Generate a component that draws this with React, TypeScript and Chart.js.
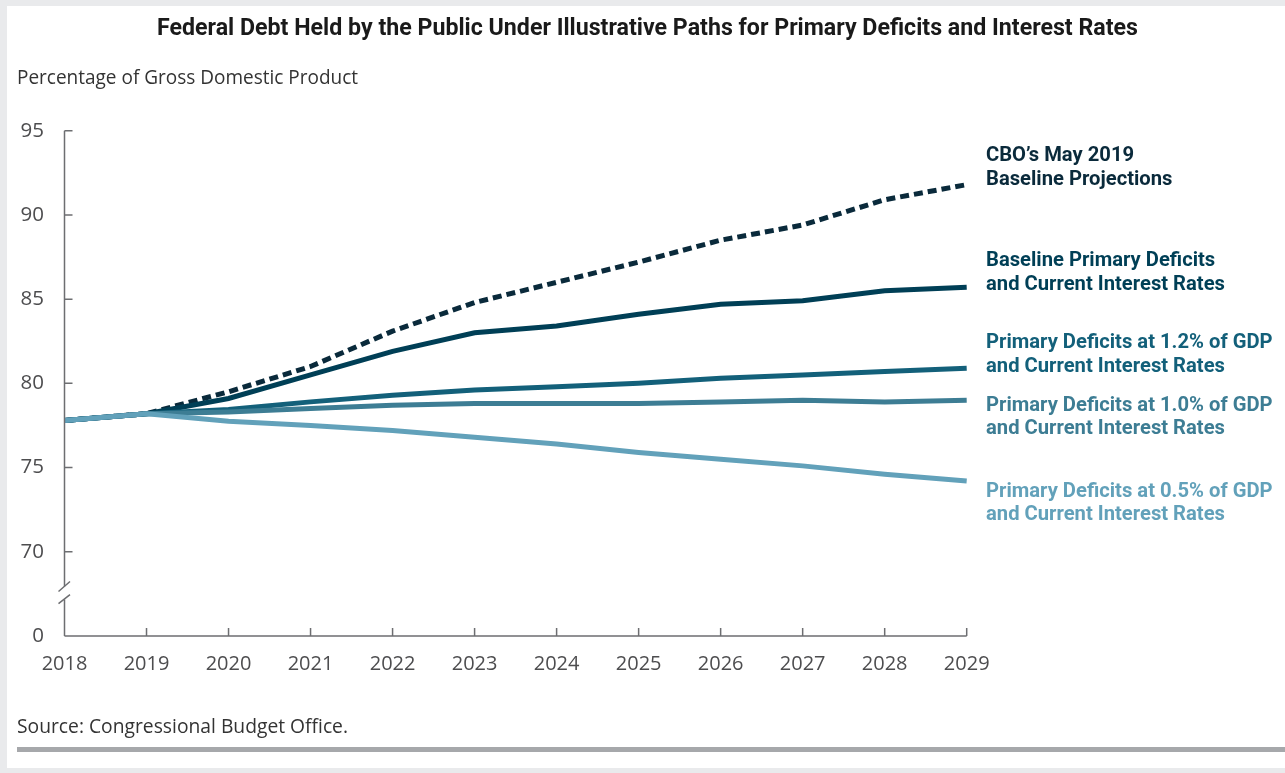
import React, { useEffect, useRef } from 'react';
import { Chart, registerables } from 'chart.js';
Chart.register(...registerables);

// ---------- data ----------
const years = ['2018', '2019', '2020', '2021', '2022', '2023', '2024', '2025', '2026', '2027', '2028', '2029'];
const cboBaseline = [77.8, 78.2, 79.5, 81.0, 83.1, 84.8, 86.0, 87.2, 88.5, 89.4, 90.9, 91.8];
const baselineDeficits = [77.8, 78.2, 79.1, 80.5, 81.9, 83.0, 83.4, 84.1, 84.7, 84.9, 85.5, 85.7];
const deficits12 = [77.8, 78.2, 78.45, 78.9, 79.3, 79.6, 79.8, 80.0, 80.3, 80.5, 80.7, 80.9];
const deficits10 = [77.8, 78.2, 78.3, 78.5, 78.7, 78.8, 78.8, 78.8, 78.9, 79.0, 78.9, 79.0];
const deficits05 = [77.8, 78.2, 77.75, 77.5, 77.2, 76.8, 76.4, 75.9, 75.5, 75.1, 74.6, 74.2];
const yTickValues = [65, 70, 75, 80, 85, 90, 95];
const yTickLabels = ['0', '70', '75', '80', '85', '90', '95'];
const seriesLabels = [
  ['CBO’s May 2019', 'Baseline Projections'],
  ['Baseline Primary Deficits', 'and Current Interest Rates'],
  ['Primary Deficits at 1.2% of GDP', 'and Current Interest Rates'],
  ['Primary Deficits at 1.0% of GDP', 'and Current Interest Rates'],
  ['Primary Deficits at 0.5% of GDP', 'and Current Interest Rates'],
];
const titleText = 'Federal Debt Held by the Public Under Illustrative Paths for Primary Deficits and Interest Rates';
const subtitleText = 'Percentage of Gross Domestic Product';
const sourceText = 'Source: Congressional Budget Office.';

// ---------- styles ----------
const COLORS = ['#0a2a3b', '#003f56', '#13607a', '#3d7d94', '#62a1ba'];
const AXIS = '#6d6e71';
const LABEL_OFFSETS = [-28.5, -26.5, -25, 5.5, 10.5];
const LINE_GAP = 23.5;
const BREAK_VALUE = 67.55;

function fitText(ctx: CanvasRenderingContext2D, text: string, x: number, y: number, width: number) {
  const w = ctx.measureText(text).width;
  const s = width / w;
  ctx.save();
  ctx.translate(x, y);
  ctx.scale(s, 1);
  ctx.fillText(text, 0, 0);
  ctx.restore();
}

const decorPlugin = {
  id: 'decor',
  beforeDraw(chart: any) {
    const ctx: CanvasRenderingContext2D = chart.ctx;
    ctx.save();
    ctx.fillStyle = '#e9eaec';
    ctx.fillRect(0, 0, chart.width, chart.height);
    ctx.fillStyle = '#ffffff';
    ctx.fillRect(7, 6, chart.width - 7, 762);
    ctx.fillStyle = '#a6a8ab';
    ctx.fillRect(17, 747, chart.width - 17, 5);

    ctx.textAlign = 'left';
    ctx.textBaseline = 'middle';
    ctx.fillStyle = '#1a1a1a';
    ctx.font = 'bold 23px Roboto';
    fitText(ctx, titleText, 157, 29, 981);

    ctx.fillStyle = '#333333';
    ctx.font = '19.5px "Open Sans"';
    fitText(ctx, subtitleText, 17, 78, 341);
    fitText(ctx, sourceText, 17, 727, 331);
    ctx.restore();
  },
  afterDraw(chart: any) {
    const ctx: CanvasRenderingContext2D = chart.ctx;
    const xs = chart.scales.x;
    const ys = chart.scales.y;
    const left = chart.chartArea.left;
    const bottom = chart.chartArea.bottom;
    const top = chart.chartArea.top;
    const right = chart.chartArea.right;
    ctx.save();
    ctx.strokeStyle = AXIS;
    ctx.lineWidth = 1.5;
    const yb = ys.getPixelForValue(BREAK_VALUE);
    // y axis line with break
    ctx.beginPath();
    ctx.moveTo(left, top);
    ctx.lineTo(left, yb - 6.5);
    ctx.moveTo(left, yb + 6.5);
    ctx.lineTo(left, bottom);
    // x axis line
    ctx.moveTo(left, bottom);
    ctx.lineTo(right, bottom);
    ctx.stroke();
    // break slashes
    ctx.beginPath();
    ctx.moveTo(left - 6, yb - 1.5);
    ctx.lineTo(left + 5.5, yb - 11.5);
    ctx.moveTo(left - 6, yb + 10.5);
    ctx.lineTo(left + 5.5, yb + 1.5);
    ctx.stroke();
    // inward ticks
    ctx.beginPath();
    yTickValues.forEach((v) => {
      if (v === yTickValues[0]) return;
      const py = ys.getPixelForValue(v);
      ctx.moveTo(left, py);
      ctx.lineTo(left + 8, py);
    });
    years.forEach((_, i) => {
      if (i === 0) return;
      const px = xs.getPixelForValue(i);
      ctx.moveTo(px, bottom);
      ctx.lineTo(px, bottom - 8);
    });
    ctx.stroke();

    // series labels
    const series = [cboBaseline, baselineDeficits, deficits12, deficits10, deficits05];
    ctx.font = 'bold 21px Roboto';
    ctx.textAlign = 'left';
    ctx.textBaseline = 'middle';
    const scale = 239 / ctx.measureText('and Current Interest Rates').width;
    series.forEach((s, i) => {
      const endY = ys.getPixelForValue(s[s.length - 1]);
      ctx.fillStyle = COLORS[i];
      seriesLabels[i].forEach((line, j) => {
        const w = ctx.measureText(line).width * scale;
        fitText(ctx, line, 986, endY + LABEL_OFFSETS[i] + j * LINE_GAP, w);
      });
    });
    ctx.restore();
  },
};

export default function App() {
  const ref = useRef<HTMLCanvasElement>(null);
  useEffect(() => {
    if (!ref.current) return;
    const mk = (label: string, data: number[], i: number, dash: number[] = []) => ({
      label,
      data,
      borderColor: COLORS[i],
      backgroundColor: COLORS[i],
      borderWidth: 5,
      borderDash: dash,
      borderCapStyle: 'butt' as const,
      pointRadius: 0,
      tension: 0,
      fill: false,
    });
    const chart = new Chart(ref.current, {
      type: 'line',
      data: {
        labels: years,
        datasets: [
          mk(seriesLabels[4].join(' '), deficits05, 4),
          mk(seriesLabels[3].join(' '), deficits10, 3),
          mk(seriesLabels[2].join(' '), deficits12, 2),
          mk(seriesLabels[1].join(' '), baselineDeficits, 1),
          mk(seriesLabels[0].join(' '), cboBaseline, 0, [9, 5]),
        ],
      },
      options: {
        responsive: false,
        animation: false,
        devicePixelRatio: 1,
        layout: { padding: { left: 0, top: 130.7, right: 318.3, bottom: 0 } },
        plugins: { legend: { display: false }, tooltip: { enabled: false }, title: { display: false } },
        scales: {
          x: {
            type: 'category',
            offset: false,
            grid: { display: false, drawTicks: false },
            border: { display: false },
            ticks: { color: '#4d4d4f', font: { family: '"Open Sans"', size: 20 }, padding: 16, maxRotation: 0, autoSkip: false },
            afterFit: (s: any) => { s.height = 137; },
          },
          y: {
            type: 'linear',
            min: 65,
            max: 95,
            grid: { display: false, drawTicks: false },
            border: { display: false },
            afterBuildTicks: (s: any) => { s.ticks = yTickValues.map((v) => ({ value: v })); },
            ticks: {
              color: '#4d4d4f',
              font: { family: '"Open Sans"', size: 20.5 },
              padding: 20.5,
              callback: (v: any) => yTickLabels[yTickValues.indexOf(Number(v))] ?? '',
            },
            afterFit: (s: any) => { s.width = 64.5; },
          },
        },
      },
      plugins: [decorPlugin],
    });
    return () => chart.destroy();
  }, []);
  return (
    <div style={{ position: 'absolute', left: 0, top: 0, width: 1285, height: 773 }}>
      <canvas ref={ref} width={1285} height={773} style={{ display: 'block', width: 1285, height: 773 }} />
    </div>
  );
}
